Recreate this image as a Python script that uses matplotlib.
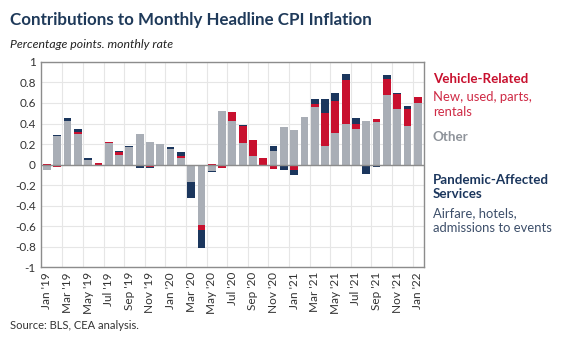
import matplotlib
matplotlib.use("Agg")
import matplotlib.pyplot as plt
import numpy as np

months = ["Jan '19", "Feb '19", "Mar '19", "Apr '19", "May '19", "Jun '19", "Jul '19", "Aug '19",
          "Sep '19", "Oct '19", "Nov '19", "Dec '19", "Jan '20", "Feb '20", "Mar '20", "Apr '20",
          "May '20", "Jun '20", "Jul '20", "Aug '20", "Sep '20", "Oct '20", "Nov '20", "Dec '20",
          "Jan '21", "Feb '21", "Mar '21", "Apr '21", "May '21", "Jun '21", "Jul '21", "Aug '21",
          "Sep '21", "Oct '21", "Nov '21", "Dec '21", "Jan '22"]

other = [-0.05, 0.28, 0.42, 0.30, 0.04, -0.01, 0.21, 0.09, 0.17, 0.30, 0.22, 0.20, 0.15,
         0.06, -0.17, -0.59, -0.06, 0.52, 0.42, 0.21, 0.08, 0.00, 0.13, 0.37, 0.34, 0.46,
         0.56, 0.18, 0.31, 0.40, 0.35, 0.42, 0.41, 0.68, 0.54, 0.38, 0.60]
vehicle = [0.01, -0.02, 0.00, 0.02, 0.00, 0.02, 0.01, 0.03, -0.01, 0.00, -0.02, 0.00, -0.01,
           0.02, 0.00, -0.05, 0.01, -0.03, 0.09, 0.17, 0.16, 0.06, -0.04, 0.00, -0.05, 0.00,
           0.03, 0.32, 0.31, 0.42, 0.05, 0.00, 0.03, 0.15, 0.15, 0.16, 0.06]
pandemic = [0.00, 0.01, 0.03, 0.03, 0.02, 0.00, 0.00, 0.01, 0.01, -0.03, -0.01, -0.01, 0.02,
            0.04, -0.16, -0.17, -0.01, 0.00, 0.00, 0.01, -0.01, 0.00, 0.05, -0.05, -0.05, -0.01,
            0.05, 0.14, 0.08, 0.06, 0.05, -0.09, -0.02, 0.04, 0.01, 0.03, -0.01]

c_other = "#a9aeb6"
c_vehicle = "#c8102e"
c_pand = "#1b365d"

plt.rcParams['font.family'] = ['Lato', 'DejaVu Sans']

fig = plt.figure(figsize=(5.66, 3.52), dpi=100)
ax = fig.add_axes([0.072, 0.241, 0.677, 0.583])

x = np.arange(len(months))
pos = np.zeros(len(months))
neg = np.zeros(len(months))
for vals, col in [(other, c_other), (vehicle, c_vehicle), (pandemic, c_pand)]:
    v = np.array(vals)
    bottom = np.where(v >= 0, pos, neg)
    ax.bar(x, v, bottom=bottom, width=0.75, color=col, zorder=3)
    pos = pos + np.where(v > 0, v, 0)
    neg = neg + np.where(v < 0, v, 0)

ax.set_ylim(-1, 1)
ax.set_xlim(-0.6, len(months) - 0.4)
ax.set_yticks(np.arange(-1, 1.01, 0.2))
ax.set_yticklabels(["-1", "-0.8", "-0.6", "-0.4", "-0.2", "0", "0.2", "0.4", "0.6", "0.8", "1"])
ax.set_xticks(x[::2])
ax.set_xticklabels(months[::2], rotation=90)
ax.set_xticks(np.arange(1.5, len(months), 2), minor=True)
ax.tick_params(axis="both", length=0, labelsize=8.5, colors="#333333")
ax.tick_params(which="minor", length=0)
ax.grid(axis="y", color="#e6e6e6", lw=0.8, zorder=0)
ax.grid(axis="x", which="minor", color="#e6e6e6", lw=0.8, zorder=0)
ax.axhline(0, color="#8c8c8c", lw=1, zorder=4)
for s in ax.spines.values():
    s.set_color("#8c8c8c")
    s.set_linewidth(1)

fig.text(0.018, 0.93, "Contributions to Monthly Headline CPI Inflation", fontsize=12.2,
         fontweight="bold", color="#1f3a5a")
fig.text(0.018, 0.865, "Percentage points. monthly rate", fontsize=8.8, style="italic",
         color="#222222")
fig.text(0.018, 0.065, "Source: BLS, CEA analysis.", fontsize=8, color="#333333")

lx = 0.765
fig.text(lx, 0.763, "Vehicle-Related", fontsize=9.6, fontweight="bold", color=c_vehicle)
fig.text(lx, 0.67, "New, used, parts,\nrentals", fontsize=9.4, color="#cf2a45", linespacing=1.3)
fig.text(lx, 0.6, "Other", fontsize=9.6, fontweight="bold", color="#8e939a")
fig.text(lx, 0.437, "Pandemic-Affected\nServices", fontsize=9.6, fontweight="bold", color=c_pand,
         linespacing=1.2)
fig.text(lx, 0.34, "Airfare, hotels,\nadmissions to events", fontsize=9.4, color="#3d4f6a",
         linespacing=1.3)

fig.savefig("out.png", dpi=100)
